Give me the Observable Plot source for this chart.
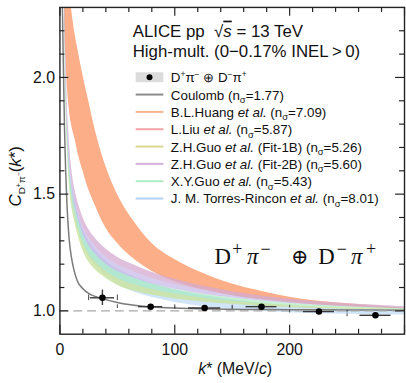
<!DOCTYPE html>
<html><head><meta charset="utf-8">
<script src="https://cdn.jsdelivr.net/npm/d3@7"></script>
<script src="https://cdn.jsdelivr.net/npm/@observablehq/plot@0.6"></script>
<style>
html,body{margin:0;padding:0;background:#fff;overflow:hidden;}
#chart{position:relative;width:406px;height:383px;overflow:hidden;}
</style></head><body><div id="chart"></div>
<script>
// ---------- data ----------
const ptK   = [37, 79, 126, 175.5, 225.5, 274.7];
const ptC   = [1.056, 1.018, 1.012, 1.018, 0.997, 0.981];
const ptKerr = [10.5, 10.5, 14, 13.5, 13.5, 13.5];
const ptCerr = [0.033, 0.008, 0.006, 0.006, 0.006, 0.006];
const sysLo = [25, 50, 100, 150, 200, 250];
const sysHi = [50, 100, 150, 200, 250, 300];
const sysErr = [0.012, 0.008, 0.006, 0.006, 0.006, 0.006];

const coulK = [2,3,4,5,6,7,8,10,12,15,20,25,30,40,50,60,70,80,100,130,160,200,250,300];
const coulC = [2.35,2.05,1.78,1.6,1.47,1.38,1.31,1.23,1.18,1.13,1.095,1.075,1.063,1.048,1.036,1.027,1.021,1.017,1.012,1.008,1.006,1.005,1.004,1.003];

const kGrid = [4,5,6,8,10,13,16,20,25,30,40,50,65,80,100,125,150,175,200,250,300];
const huangHi = [2.7,2.6,2.52,2.4,2.3,2.19,2.11,2.01,1.9,1.79,1.62,1.5,1.38,1.29,1.22,1.16,1.115,1.084,1.058,1.03,1.012];
const huangLo = [2.25,2.1,2.0,1.87,1.8,1.74,1.67,1.6,1.52,1.46,1.355,1.29,1.22,1.17,1.125,1.09,1.065,1.048,1.035,1.018,1.008];
const liuHi   = [2.45,2.15,1.95,1.74,1.62,1.52,1.46,1.40,1.35,1.315,1.265,1.23,1.195,1.165,1.135,1.105,1.082,1.064,1.05,1.03,1.018];
const liuLo   = [2.38,2.09,1.9,1.7,1.58,1.485,1.425,1.365,1.315,1.282,1.232,1.2,1.168,1.14,1.114,1.088,1.068,1.053,1.041,1.024,1.014];
const fit2bHi = [2.45,2.15,1.95,1.74,1.62,1.52,1.46,1.40,1.35,1.315,1.265,1.23,1.195,1.165,1.135,1.105,1.082,1.064,1.05,1.03,1.018];
const fit2bLo = [2.32,2.03,1.85,1.65,1.54,1.45,1.39,1.33,1.28,1.248,1.2,1.17,1.14,1.116,1.093,1.071,1.055,1.042,1.032,1.018,1.01];
const fit1bHi = [2.26,1.97,1.8,1.6,1.5,1.415,1.355,1.295,1.245,1.214,1.17,1.14,1.112,1.092,1.072,1.054,1.041,1.031,1.023,1.012,1.006];
const fit1bLo = [2.2,1.92,1.76,1.56,1.46,1.38,1.32,1.26,1.21,1.18,1.14,1.11,1.085,1.068,1.052,1.038,1.028,1.02,1.014,1.007,1.003];
const xyguoHi = [2.32,2.03,1.85,1.65,1.54,1.45,1.39,1.33,1.28,1.248,1.2,1.17,1.14,1.116,1.093,1.071,1.055,1.042,1.032,1.018,1.01];
const xyguoLo = [2.2,1.92,1.76,1.56,1.46,1.38,1.32,1.26,1.21,1.18,1.14,1.11,1.085,1.068,1.052,1.038,1.028,1.02,1.014,1.007,1.003];
const torresHi = [2.36,2.07,1.88,1.68,1.56,1.47,1.41,1.35,1.3,1.265,1.215,1.18,1.145,1.118,1.09,1.066,1.048,1.033,1.022,1.008,1.001];
const torresLo = [2.24,1.96,1.79,1.59,1.49,1.405,1.345,1.285,1.235,1.2,1.15,1.115,1.08,1.058,1.036,1.018,1.006,0.998,0.992,0.985,0.982];

const xMajor = [0, 100, 200, 300];
const xMinor = [20,40,60,80,120,140,160,180,220,240,260,280];
const yMajor = [1.0, 1.5, 2.0];
const yMinor = [1.1,1.2,1.3,1.4,1.6,1.7,1.8,1.9,2.1,2.2];
const xTickLabels = [0, 100, 200];

const legendNames = ["Coulomb", "B.L.Huang", "L.Liu", "Z.H.Guo", "Z.H.Guo", "X.Y.Guo", "J. M. Torres-Rincon"];
const legendEtAl  = [false, true, true, true, true, true, true];
const legendFit   = ["", "", "", " (Fit-1B)", " (Fit-2B)", "", ""];
const legendNsig  = ["1.77", "7.09", "5.87", "5.26", "5.60", "5.43", "8.01"];
const legendColors = ["#8a8a8a", "#fcb48e", "#f5a3a6", "#dcd98e", "#d6ade0", "#a9efc6", "#b0d2f4"];

// ---------- build tables ----------
const points = ptK.map((k, i) => ({k, c: ptC[i], ek: ptKerr[i], ec: ptCerr[i]}));
const sysMarks = [];
ptK.forEach((k, i) => {
  sysMarks.push({k: sysLo[i], c: ptC[i], e: sysErr[i]});
  sysMarks.push({k: sysHi[i], c: ptC[i], e: sysErr[i]});
});
const coul = coulK.map((k, i) => ({k, c: coulC[i]}));
const band = (lo, hi) => kGrid.map((k, i) => ({k, lo: lo[i], hi: hi[i]}));

const plotW = 348, plotH = 330;
const areaOpts = (fill, op) => ({x: "k", y1: "lo", y2: "hi", fill, fillOpacity: op, curve: "monotone-x", clip: true});

const chart = Plot.plot({
  width: 410, height: 383,
  marginLeft: 60, marginRight: 2, marginTop: 7, marginBottom: 46,
  x: {domain: [0, 300]},
  y: {domain: [0.9, 2.3]},
  style: {fontFamily: "'Liberation Sans', Arial, sans-serif", fontSize: "16px", background: "#fff", color: "#111"},
  marks: [
    Plot.areaY(band(huangLo, huangHi), areaOpts("#fcae88", 1)),
    Plot.areaY(band(torresLo, torresHi), areaOpts("#a9cff3", 0.55)),
    Plot.areaY(band(xyguoLo, xyguoHi), areaOpts("#9fe9b8", 0.6)),
    Plot.areaY(band(fit1bLo, fit1bHi), areaOpts("#e3dd8e", 0.5)),
    Plot.areaY(band(fit2bLo, fit2bHi), areaOpts("#c2b0e4", 0.65)),
    Plot.areaY(band(liuLo, liuHi), areaOpts("#f2a2b4", 0.3)),
    Plot.lineY(coul, {x: "k", y: "c", stroke: "#7a7a7a", strokeWidth: 1.5, curve: "monotone-x", clip: true}),
    Plot.ruleY([1], {stroke: "#a8a8a8", strokeWidth: 1.3, strokeDasharray: "9,5"}),
    Plot.ruleX(sysMarks, {x: "k", y1: d => d.c - d.e, y2: d => d.c + d.e, stroke: "#444", strokeWidth: 1}),
    Plot.ruleY(points, {y: "c", x1: d => d.k - d.ek, x2: d => d.k + d.ek, stroke: "#3a3a3a", strokeWidth: 1.4}),
    Plot.ruleX(points, {x: "k", y1: d => d.c - d.ec, y2: d => d.c + d.ec, stroke: "#3a3a3a", strokeWidth: 1.4}),
    Plot.dot(points, {x: "k", y: "c", r: 3.3, fill: "#000"}),
    // inward ticks
    Plot.ruleX(xMajor, {x: d => d, insetTop: plotH - 9, stroke: "#222", strokeWidth: 1.2}),
    Plot.ruleX(xMinor, {x: d => d, insetTop: plotH - 5, stroke: "#222", strokeWidth: 1.2}),
    Plot.ruleX(xMajor, {x: d => d, insetBottom: plotH - 9, stroke: "#222", strokeWidth: 1.2}),
    Plot.ruleX(xMinor, {x: d => d, insetBottom: plotH - 5, stroke: "#222", strokeWidth: 1.2}),
    Plot.ruleY(yMajor, {y: d => d, insetRight: plotW - 9, stroke: "#222", strokeWidth: 1.2}),
    Plot.ruleY(yMinor, {y: d => d, insetRight: plotW - 5, stroke: "#222", strokeWidth: 1.2}),
    Plot.ruleY(yMajor, {y: d => d, insetLeft: plotW - 9, stroke: "#222", strokeWidth: 1.2}),
    Plot.ruleY(yMinor, {y: d => d, insetLeft: plotW - 5, stroke: "#222", strokeWidth: 1.2}),
    Plot.frame({stroke: "#222", strokeWidth: 1.4}),
    Plot.axisX({ticks: xTickLabels, tickSize: 0, tickPadding: 10, label: null, fontSize: 16, fill: "#111"}),
    Plot.axisY({ticks: yMajor, tickSize: 0, tickPadding: 5, label: null, tickFormat: d3.format(".1f"), fontSize: 16, fill: "#111"})
  ]
});
document.getElementById("chart").appendChild(chart);

// ---------- text annotations ----------
const svg = d3.select(chart);
const sans = "'Liberation Sans', Arial, sans-serif";
const serif = "'Liberation Serif', 'DejaVu Serif', 'Times New Roman', serif";
const ann = svg.append("g").attr("text-anchor", "start");

// header
const h1 = ann.append("text").attr("x", 134).attr("y", 37).attr("font-family", sans).attr("font-size", 17).attr("fill", "#111");
h1.append("tspan").text("ALICE pp  \u221a");
h1.append("tspan").attr("font-style", "italic").attr("text-decoration", "overline").text("s");
h1.append("tspan").text(" = 13 TeV");
ann.append("text").attr("x", 134).attr("y", 57.5).attr("font-family", sans).attr("font-size", 17).attr("fill", "#111")
  .text("High-mult. (0\u22120.17% INEL\u2009>\u20090)");

// legend
const rowY = [78, 95.5, 113, 130.5, 148, 165.5, 183, 200.5];
const lg = ann.append("g").attr("font-family", sans).attr("font-size", 13.5).attr("fill", "#111");
lg.append("rect").attr("x", 137).attr("y", rowY[0] - 5).attr("width", 28).attr("height", 10).attr("fill", "#dcdcdc");
lg.append("circle").attr("cx", 151).attr("cy", rowY[0]).attr("r", 3).attr("fill", "#000");
const t0 = lg.append("text").attr("x", 172.5).attr("y", rowY[0] + 5);
t0.append("tspan").text("D");
t0.append("tspan").attr("font-size", 8.5).attr("dy", -5).text("+");
t0.append("tspan").attr("dy", 5).text("\u03c0");
t0.append("tspan").attr("font-size", 8.5).attr("dy", -5).text("\u2212");
t0.append("tspan").attr("dy", 5).text(" \u2295 D");
t0.append("tspan").attr("font-size", 8.5).attr("dy", -5).text("\u2212");
t0.append("tspan").attr("dy", 5).text("\u03c0");
t0.append("tspan").attr("font-size", 8.5).attr("dy", -5).text("+");
legendNames.forEach((name, i) => {
  const y = rowY[i + 1];
  lg.append("line").attr("x1", 137).attr("x2", 165).attr("y1", y).attr("y2", y)
    .attr("stroke", legendColors[i]).attr("stroke-width", 2);
  const t = lg.append("text").attr("x", 172.5).attr("y", y + 5);
  t.append("tspan").text(name + (legendEtAl[i] ? " " : ""));
  if (legendEtAl[i]) t.append("tspan").attr("font-style", "italic").text("et al.");
  t.append("tspan").text(legendFit[i] + " (n");
  t.append("tspan").attr("font-size", 9.5).attr("dy", 3.5).text("\u03c3");
  t.append("tspan").attr("dy", -3.5).text("=" + legendNsig[i] + ")");
});

// big channel label
const big = ann.append("g").attr("font-family", serif).attr("fill", "#111");
const bigParts = [
  {x: 216.5, t: "D", s: 23, dy: 0, it: false},
  {x: 234.5, t: "+", s: 18, dy: -9, it: false},
  {x: 249.5, t: "\u03c0", s: 23, dy: 0, it: true},
  {x: 263, t: "\u2212", s: 18, dy: -9, it: false},
  {x: 294, t: "\u2295", s: 21, dy: 0, it: false},
  {x: 321.5, t: "D", s: 23, dy: 0, it: false},
  {x: 340, t: "\u2212", s: 18, dy: -9, it: false},
  {x: 354.5, t: "\u03c0", s: 23, dy: 0, it: true},
  {x: 369.5, t: "+", s: 18, dy: -9, it: false}
];
bigParts.forEach(p => {
  big.append("text").attr("x", p.x).attr("y", 266.5 + p.dy).attr("font-size", p.s)
    .attr("font-style", p.it ? "italic" : "normal").text(p.t);
});

// axis titles
const xl = svg.append("text").attr("x", 237.5).attr("y", 378).attr("text-anchor", "middle")
  .attr("font-family", sans).attr("font-size", 16).attr("fill", "#111");
xl.append("tspan").attr("font-style", "italic").text("k");
xl.append("tspan").text("* (MeV/");
xl.append("tspan").attr("font-style", "italic").text("c");
xl.append("tspan").text(")");

const yl = svg.append("text").attr("transform", "translate(21,178) rotate(-90)").attr("text-anchor", "middle")
  .attr("font-family", sans).attr("font-size", 17).attr("fill", "#111");
yl.append("tspan").attr("font-style", "italic").text("C");
yl.append("tspan").attr("font-size", 10).attr("dy", 4).text("D");
yl.append("tspan").attr("font-size", 7).attr("dy", -4).text("+");
yl.append("tspan").attr("font-size", 10).attr("dy", 4).text("\u03c0");
yl.append("tspan").attr("font-size", 7).attr("dy", -4).text("\u2212");
yl.append("tspan").attr("dy", 0).text("(");
yl.append("tspan").attr("font-style", "italic").text("k");
yl.append("tspan").text("*)");
</script></body></html>
